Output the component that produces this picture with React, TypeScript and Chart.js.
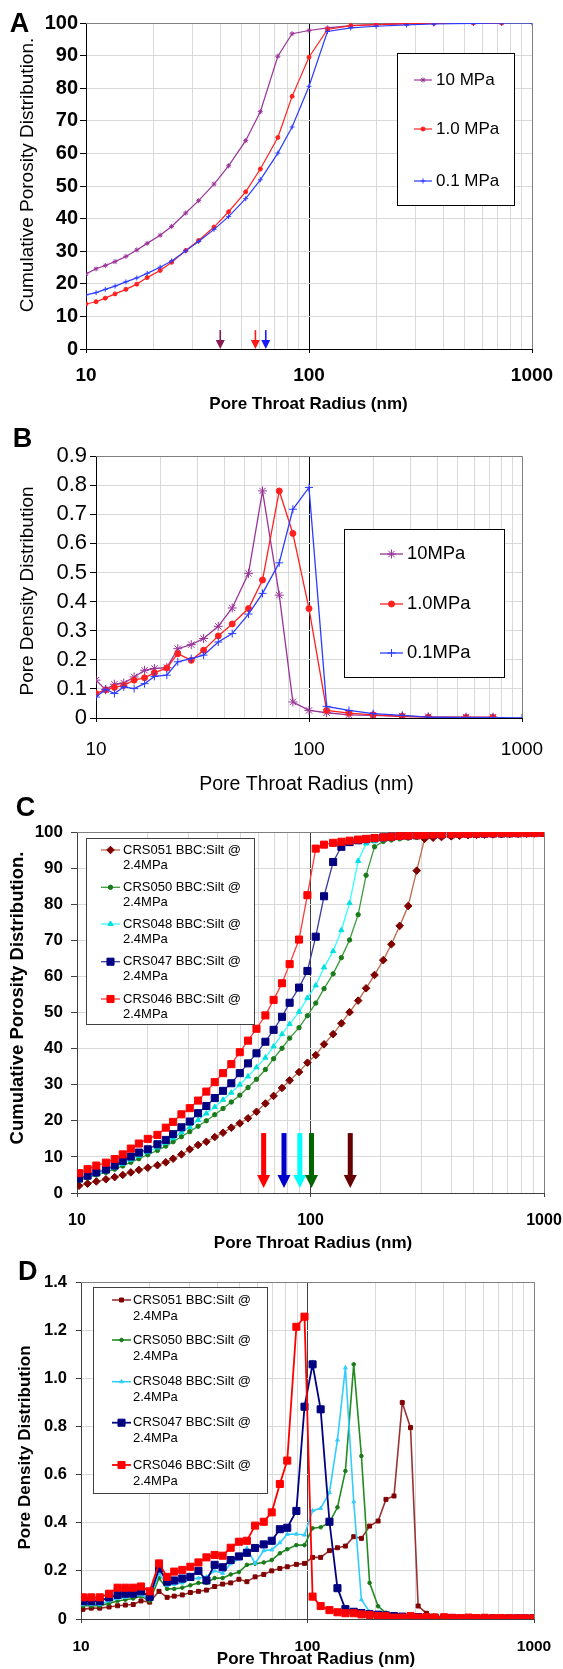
import React, { useEffect, useRef } from 'react';
import { Chart, registerables } from 'chart.js';

Chart.register(...registerables);

const FAMILY = "'Liberation Sans', Arial, Helvetica, sans-serif";
const PAGE_W = 563;

// ---------------- shared log x axis ----------------
const logGridValues = [10, 20, 30, 40, 50, 60, 70, 80, 90, 100, 200, 300, 400, 500, 600, 700, 800, 900, 1000];
const logLabelValues = [10, 100, 1000];

// ---------------- Panels A & B ----------------
const radiiAB = [10, 11.1, 12.2, 13.5, 15.1, 16.9, 18.8, 21.5, 24.2, 28, 32, 37.5, 43.6, 52, 60.5, 72.5, 84, 100, 121, 154, 200, 274, 363, 546, 731, 1000];
const labelsA = ['10 MPa', '1.0 MPa', '0.1 MPa'];
const labelsB = ['10MPa', '1.0MPa', '0.1MPa'];

const cumA_10 = [23.0, 24.6, 25.6, 26.8, 28.4, 30.4, 32.4, 34.9, 37.6, 41.7, 45.5, 50.6, 56.2, 63.9, 72.8, 89.8, 96.7, 97.7, 98.5, 99.2, 99.5, 99.8, 99.9, 100, 100];
const cumA_1 = [13.8, 14.5, 15.6, 16.9, 18.3, 19.9, 21.9, 24.1, 26.6, 30.2, 33.3, 37.4, 42.1, 48.2, 55.2, 64.9, 77.5, 89.5, 98.0, 99.2, 99.5, 99.8, 99.9, 100, 100];
const cumA_01 = [16.6, 17.3, 18.3, 19.3, 20.6, 21.8, 23.2, 25.1, 27.0, 30.1, 33.0, 36.7, 40.6, 46.1, 51.9, 60.1, 68.1, 80.6, 97.4, 98.5, 99.0, 99.4, 99.7, 99.9, 100, 100];

const pdB_10 = [0.13, 0.097, 0.116, 0.12, 0.141, 0.164, 0.17, 0.173, 0.238, 0.252, 0.273, 0.315, 0.378, 0.497, 0.78, 0.422, 0.055, 0.026, 0.018, 0.011, 0.009, 0.006, 0.004, 0.003, 0.003];
const pdB_1 = [0.084, 0.097, 0.105, 0.112, 0.13, 0.138, 0.155, 0.172, 0.221, 0.198, 0.233, 0.282, 0.323, 0.376, 0.474, 0.78, 0.634, 0.376, 0.026, 0.017, 0.011, 0.006, 0.003, 0.002, 0.002];
const pdB_01 = [0.072, 0.099, 0.084, 0.107, 0.101, 0.118, 0.143, 0.147, 0.193, 0.204, 0.216, 0.261, 0.29, 0.357, 0.428, 0.533, 0.717, 0.792, 0.04, 0.026, 0.015, 0.009, 0.003, 0.001, 0.001, 0];

const arrowRadiiA = [40, 57.5, 64];
const arrowColorsA = ['#8B1A50', '#FF1A1A', '#1A1AFF'];

// ---------------- Panels C & D ----------------
const radiiCD = [10.2, 11.1, 12.1, 13.3, 14.5, 15.7, 17.0, 18.4, 20.1, 22.1, 24.0, 25.8, 28.0, 30.4, 33.0, 35.8, 38.9, 42.2, 45.8, 49.8, 54.0, 58.7, 64.1, 69.5, 75.5, 81.4, 89.3, 97.0, 105.3, 114.3, 125, 135.6, 147, 160, 173, 188, 205, 222, 241, 262, 285, 308, 335, 364, 401, 435, 473, 514, 557, 605, 658, 713, 775, 842, 912, 993];
const sampleLabels = [
  ['CRS051 BBC:Silt @', '2.4MPa'],
  ['CRS050 BBC:Silt @', '2.4MPa'],
  ['CRS048 BBC:Silt @', '2.4MPa'],
  ['CRS047 BBC:Silt @', '2.4MPa'],
  ['CRS046 BBC:Silt @', '2.4MPa'],
];

const cumC_051 = [2.0, 2.6, 3.2, 3.8, 4.4, 5.0, 5.7, 6.4, 7.0, 7.7, 8.5, 9.5, 10.7, 12.1, 13.3, 14.2, 15.5, 16.7, 18.1, 19.3, 20.7, 22.5, 24.8, 26.9, 29.1, 31.2, 33.5, 36.1, 38.2, 41.2, 44.0, 47.0, 50.1, 53.3, 56.7, 60.4, 64.5, 68.9, 74.0, 79.5, 89.3, 98.1, 98.4, 98.6, 98.8, 98.95, 99.1, 99.2, 99.3, 99.35, 99.4, 99.45, 99.5, 99.55, 99.6, 99.7];
const cumC_050 = [3.5, 4.2, 5.0, 5.7, 6.6, 7.5, 8.5, 9.5, 10.6, 11.8, 13.0, 14.2, 15.6, 17.0, 18.5, 20.0, 21.7, 23.4, 25.2, 27.1, 29.2, 31.5, 34.2, 37.2, 40.1, 42.9, 45.8, 49.1, 52.6, 56.6, 60.7, 65.2, 70.1, 77.1, 88.0, 95.9, 97.4, 97.8, 98.1, 98.3, 98.5, 98.7, 98.9, 99.0, 99.1, 99.2, 99.3, 99.35, 99.4, 99.45, 99.5, 99.5, 99.55, 99.6, 99.65, 99.7];
const cumC_048 = [3.7, 4.4, 5.2, 6.0, 7.0, 8.1, 9.2, 10.3, 11.3, 12.6, 13.9, 15.2, 16.8, 18.3, 20.2, 22.0, 23.8, 25.8, 27.8, 30.0, 32.3, 34.8, 37.5, 40.6, 44.0, 46.8, 50.2, 54.0, 57.5, 62.5, 67.0, 72.8, 80.3, 92.0, 96.8, 97.4, 97.8, 98.1, 98.3, 98.5, 98.7, 98.9, 99.0, 99.1, 99.2, 99.3, 99.35, 99.4, 99.45, 99.5, 99.5, 99.55, 99.6, 99.6, 99.65, 99.7];
const cumC_047 = [4.0, 4.8, 5.7, 6.5, 7.6, 8.9, 10.1, 11.2, 12.1, 13.5, 14.7, 16.3, 18.2, 19.8, 22.1, 24.1, 26.3, 28.3, 30.4, 33.2, 35.9, 38.7, 41.9, 45.2, 48.8, 52.7, 56.9, 61.5, 71.0, 82.2, 91.7, 95.9, 97.2, 97.7, 98.0, 98.3, 98.5, 98.7, 98.9, 99.0, 99.1, 99.2, 99.3, 99.35, 99.4, 99.45, 99.5, 99.5, 99.55, 99.6, 99.6, 99.65, 99.65, 99.7, 99.7, 99.75];
const cumC_046 = [5.5, 6.6, 7.6, 8.4, 9.4, 10.7, 12.3, 13.7, 15.0, 16.1, 18.1, 19.7, 21.8, 23.5, 25.6, 28.1, 30.7, 33.2, 35.7, 39.0, 42.2, 45.5, 49.2, 53.5, 58.1, 63.4, 70.2, 82.5, 95.4, 96.5, 97.0, 97.3, 97.6, 97.9, 98.1, 98.3, 98.5, 98.7, 98.9, 99.0, 99.1, 99.2, 99.3, 99.35, 99.4, 99.5, 99.5, 99.55, 99.6, 99.6, 99.65, 99.65, 99.7, 99.7, 99.75, 99.8];

const pdD_051 = [0.04, 0.045, 0.045, 0.05, 0.055, 0.058, 0.06, 0.075, 0.07, 0.115, 0.09, 0.095, 0.10, 0.11, 0.115, 0.12, 0.135, 0.145, 0.15, 0.165, 0.155, 0.175, 0.185, 0.2, 0.21, 0.217, 0.227, 0.231, 0.256, 0.256, 0.284, 0.296, 0.303, 0.342, 0.335, 0.386, 0.407, 0.497, 0.511, 0.899, 0.795, 0.054, 0.024, 0.012, 0.01, 0.008, 0.006, 0.005, 0.004, 0.004, 0.003, 0.003, 0.003, 0.003, 0.003, 0.003];
const pdD_050 = [0.055, 0.055, 0.055, 0.065, 0.075, 0.08, 0.085, 0.095, 0.075, 0.17, 0.125, 0.125, 0.13, 0.14, 0.15, 0.15, 0.17, 0.17, 0.185, 0.195, 0.225, 0.23, 0.235, 0.245, 0.273, 0.29, 0.307, 0.307, 0.377, 0.381, 0.4, 0.464, 0.615, 1.058, 0.677, 0.15, 0.053, 0.026, 0.019, 0.012, 0.009, 0.007, 0.006, 0.005, 0.005, 0.004, 0.004, 0.003, 0.003, 0.003, 0.01, 0.003, 0.003, 0.003, 0.003, 0.003];
const pdD_048 = [0.06, 0.06, 0.06, 0.075, 0.085, 0.09, 0.095, 0.10, 0.085, 0.19, 0.14, 0.145, 0.15, 0.165, 0.17, 0.175, 0.2, 0.19, 0.23, 0.25, 0.294, 0.231, 0.284, 0.287, 0.317, 0.352, 0.353, 0.349, 0.45, 0.46, 0.525, 0.744, 1.044, 0.487, 0.08, 0.03, 0.018, 0.012, 0.01, 0.008, 0.007, 0.006, 0.005, 0.005, 0.004, 0.004, 0.003, 0.003, 0.003, 0.003, 0.003, 0.003, 0.003, 0.003, 0.003, 0.003];
const pdD_047 = [0.074, 0.074, 0.074, 0.09, 0.10, 0.105, 0.105, 0.115, 0.092, 0.21, 0.155, 0.16, 0.168, 0.175, 0.20, 0.16, 0.225, 0.215, 0.245, 0.26, 0.275, 0.295, 0.31, 0.325, 0.373, 0.379, 0.449, 0.882, 1.058, 0.871, 0.404, 0.128, 0.041, 0.03, 0.025, 0.02, 0.018, 0.015, 0.012, 0.01, 0.008, 0.008, 0.006, 0.005, 0.005, 0.004, 0.004, 0.004, 0.003, 0.003, 0.003, 0.003, 0.003, 0.003, 0.003, 0.003];
const pdD_046 = [0.09, 0.09, 0.09, 0.105, 0.13, 0.13, 0.13, 0.135, 0.115, 0.231, 0.175, 0.197, 0.204, 0.217, 0.235, 0.256, 0.266, 0.263, 0.296, 0.321, 0.325, 0.388, 0.404, 0.443, 0.561, 0.658, 1.214, 1.256, 0.093, 0.054, 0.037, 0.028, 0.024, 0.024, 0.019, 0.017, 0.012, 0.012, 0.006, 0.006, 0.012, 0.006, 0.008, 0.006, 0.007, 0.005, 0.004, 0.006, 0.004, 0.005, 0.003, 0.004, 0.003, 0.003, 0.003, 0.003];

const arrowRadiiC = [63, 77, 90, 101, 148];
const arrowColorsC = ['#FF0000', '#0000CC', '#00FFFF', '#006400', '#660000'];

// ---------------- helpers ----------------
type Series = {
  lines: string[];
  values: number[];
  xs: number[];
  line: string;
  marker: string;
  style: string;
  radius: number;
  width: number;
};

const pts = (xs: number[], ys: number[]) => ys.map((y, i) => ({ x: xs[i], y }));
const isLabelled = (v: number) => logLabelValues.some((l) => Math.abs(Math.log10(v) - Math.log10(l)) < 1e-6);
const font = (weight: string, size: number) => `${weight} ${size}px ${FAMILY}`;

function drawMarker(ctx: CanvasRenderingContext2D, style: string, x: number, y: number, r: number, color: string) {
  ctx.save();
  ctx.fillStyle = color;
  ctx.strokeStyle = color;
  ctx.lineWidth = 1;
  ctx.beginPath();
  const d = r * Math.SQRT1_2;
  switch (style) {
    case 'rect':
      ctx.rect(x - d, y - d, 2 * d, 2 * d);
      ctx.fill();
      ctx.stroke();
      break;
    case 'rectRot':
      ctx.moveTo(x, y - r);
      ctx.lineTo(x + r, y);
      ctx.lineTo(x, y + r);
      ctx.lineTo(x - r, y);
      ctx.closePath();
      ctx.fill();
      ctx.stroke();
      break;
    case 'triangle': {
      const a = (2 * Math.PI) / 3;
      ctx.moveTo(x, y - r);
      ctx.lineTo(x + Math.sin(a) * r, y - Math.cos(a) * r);
      ctx.lineTo(x + Math.sin(2 * a) * r, y - Math.cos(2 * a) * r);
      ctx.closePath();
      ctx.fill();
      ctx.stroke();
      break;
    }
    case 'cross':
      ctx.moveTo(x, y - r);
      ctx.lineTo(x, y + r);
      ctx.moveTo(x - r, y);
      ctx.lineTo(x + r, y);
      ctx.stroke();
      break;
    case 'star':
      ctx.moveTo(x, y - r);
      ctx.lineTo(x, y + r);
      ctx.moveTo(x - r, y);
      ctx.lineTo(x + r, y);
      ctx.moveTo(x - d, y - d);
      ctx.lineTo(x + d, y + d);
      ctx.moveTo(x - d, y + d);
      ctx.lineTo(x + d, y - d);
      ctx.stroke();
      break;
    default:
      ctx.arc(x, y, r, 0, Math.PI * 2);
      ctx.fill();
      ctx.stroke();
  }
  ctx.restore();
}

type Spec = {
  top: number;
  height: number;
  area: { left: number; top: number; right: number; bottom: number };
  yMax: number;
  yStep: number;
  yFont: string;
  yTickLen: number;
  yPad: number;
  xFont: string;
  xTickLen: number;
  xPad: number;
  axisColor: string;
  frameColor: string;
  line100: string;
  grid: string;
  series: Series[];
  texts: { text: string; x: number; y: number; font: string; rot?: number }[];
  legend: { box: number[]; lineX: number[]; textX: number; itemY: number[]; gap: number; font: string; border: string };
  arrows?: { at: number[]; colors: string[]; from: number; to: number; shaft: number; headW: number; headH: number };
};

function buildConfig(spec: Spec): any {
  const n = spec.series.length;
  const datasets = spec.series.map((s, i) => ({
    label: s.lines.join(' '),
    data: pts(s.xs, s.values),
    borderColor: s.line,
    backgroundColor: s.marker,
    pointBackgroundColor: s.marker,
    pointBorderColor: s.marker,
    pointStyle: s.style,
    pointRadius: s.radius,
    pointHoverRadius: s.radius,
    pointBorderWidth: 1,
    borderWidth: s.width,
    tension: 0,
    fill: false,
    order: n - 1 - i,
  }));

  const framePlugin = {
    id: 'frame',
    beforeDatasetsDraw(chart: any) {
      const { ctx, chartArea: a } = chart;
      ctx.save();
      ctx.strokeStyle = spec.frameColor;
      ctx.lineWidth = 1;
      ctx.beginPath();
      ctx.moveTo(Math.round(a.left), Math.round(a.top) + 0.5);
      ctx.lineTo(Math.round(a.right) + 0.5, Math.round(a.top) + 0.5);
      ctx.lineTo(Math.round(a.right) + 0.5, Math.round(a.bottom));
      ctx.stroke();
      ctx.restore();
    },
  };

  const arrowPlugin = {
    id: 'arrows',
    afterDatasetsDraw(chart: any) {
      const ar = spec.arrows;
      if (!ar) return;
      const { ctx } = chart;
      const xs = chart.scales.x;
      const ys = chart.scales.y;
      const top = ys.getPixelForValue(ar.from);
      const tip = ys.getPixelForValue(ar.to);
      ar.at.forEach((v, i) => {
        const px = xs.getPixelForValue(v);
        ctx.save();
        ctx.fillStyle = ar.colors[i];
        ctx.fillRect(px - ar.shaft / 2, top, ar.shaft, tip - ar.headH - top + 1);
        ctx.beginPath();
        ctx.moveTo(px - ar.headW / 2, tip - ar.headH);
        ctx.lineTo(px + ar.headW / 2, tip - ar.headH);
        ctx.lineTo(px, tip);
        ctx.closePath();
        ctx.fill();
        ctx.restore();
      });
    },
  };

  const legendPlugin = {
    id: 'boxLegend',
    afterDraw(chart: any) {
      const { ctx } = chart;
      const lg = spec.legend;
      const [bx, by, bw, bh] = lg.box;
      ctx.save();
      ctx.fillStyle = '#FFFFFF';
      ctx.fillRect(bx, by, bw, bh);
      ctx.strokeStyle = lg.border;
      ctx.lineWidth = 1;
      ctx.strokeRect(bx + 0.5, by + 0.5, bw, bh);
      spec.series.forEach((s, i) => {
        const y = lg.itemY[i];
        ctx.strokeStyle = s.line;
        ctx.lineWidth = s.width;
        ctx.beginPath();
        ctx.moveTo(lg.lineX[0], y);
        ctx.lineTo(lg.lineX[1], y);
        ctx.stroke();
        drawMarker(ctx, s.style, (lg.lineX[0] + lg.lineX[1]) / 2, y, s.radius, s.marker);
        ctx.fillStyle = '#000';
        ctx.font = lg.font;
        ctx.textAlign = 'left';
        ctx.textBaseline = 'middle';
        s.lines.forEach((t, k) => ctx.fillText(t, lg.textX, y + k * lg.gap));
      });
      ctx.restore();
    },
  };

  const textPlugin = {
    id: 'texts',
    afterDraw(chart: any) {
      const { ctx } = chart;
      spec.texts.forEach((t) => {
        ctx.save();
        ctx.translate(t.x, t.y);
        if (t.rot) ctx.rotate(t.rot);
        ctx.font = t.font;
        ctx.fillStyle = '#000';
        ctx.textAlign = 'center';
        ctx.textBaseline = 'middle';
        ctx.fillText(t.text, 0, 0);
        ctx.restore();
      });
    },
  };

  const zeroPad = (s: any) => {
    s.paddingLeft = 0;
    s.paddingRight = 0;
    s.paddingTop = 0;
    s.paddingBottom = 0;
  };

  return {
    type: 'line',
    data: { datasets },
    options: {
      responsive: false,
      animation: false,
      events: [],
      layout: {
        padding: { left: 0, top: spec.area.top, right: PAGE_W - spec.area.right, bottom: 0 },
      },
      plugins: {
        legend: { display: false },
        tooltip: { enabled: false },
        title: { display: false },
      },
      scales: {
        x: {
          type: 'logarithmic',
          min: 10,
          max: 1000,
          afterBuildTicks: (s: any) => {
            s.ticks = logGridValues.map((v) => ({ value: v }));
          },
          afterFit: (s: any) => {
            s.height = spec.height - spec.area.bottom;
            zeroPad(s);
          },
          ticks: {
            autoSkip: false,
            maxRotation: 0,
            minRotation: 0,
            padding: spec.xPad,
            color: '#000',
            font: { family: FAMILY, size: parseFloat(spec.xFont.split(' ')[1]), weight: spec.xFont.split(' ')[0] },
            callback: (v: number) => (isLabelled(v) ? String(Math.round(v)) : ''),
          },
          grid: {
            color: (c: any) => (c.tick && Math.abs(c.tick.value - 100) < 1e-6 ? spec.line100 : spec.grid),
            tickColor: (c: any) => (c.tick && isLabelled(c.tick.value) ? spec.axisColor : 'rgba(0,0,0,0)'),
            tickLength: spec.xTickLen,
            lineWidth: 1,
          },
          border: { color: spec.axisColor, width: 1 },
        },
        y: {
          type: 'linear',
          min: 0,
          max: spec.yMax,
          afterFit: (s: any) => {
            s.width = spec.area.left;
            zeroPad(s);
          },
          ticks: {
            stepSize: spec.yStep,
            autoSkip: false,
            padding: spec.yPad,
            color: '#000',
            font: { family: FAMILY, size: parseFloat(spec.yFont.split(' ')[1]), weight: spec.yFont.split(' ')[0] },
          },
          grid: {
            color: spec.grid,
            tickColor: spec.axisColor,
            tickLength: spec.yTickLen,
            lineWidth: 1,
          },
          border: { color: spec.axisColor, width: 1 },
        },
      },
    },
    plugins: [framePlugin, arrowPlugin, legendPlugin, textPlugin],
  };
}

// ---------------- panel specs ----------------
const PURPLE = '#993399';
const RED = '#FF2020';
const BLUE = '#2B3BFF';
const ROT = -Math.PI / 2;

const specA: Spec = {
  top: 0,
  height: 415,
  area: { left: 86, top: 23, right: 532, bottom: 349 },
  yMax: 100,
  yStep: 10,
  yFont: 'bold 20',
  yTickLen: 6,
  yPad: 2,
  xFont: 'bold 19',
  xTickLen: 4,
  xPad: 11,
  axisColor: '#000000',
  frameColor: '#808080',
  line100: '#000000',
  grid: '#D9D9D9',
  series: [
    { lines: [labelsA[0]], values: cumA_10, xs: radiiAB, line: PURPLE, marker: PURPLE, style: 'star', radius: 2.5, width: 1.2 },
    { lines: [labelsA[1]], values: cumA_1, xs: radiiAB, line: RED, marker: RED, style: 'circle', radius: 2, width: 1.2 },
    { lines: [labelsA[2]], values: cumA_01, xs: radiiAB, line: BLUE, marker: BLUE, style: 'cross', radius: 2.5, width: 1.2 },
  ],
  texts: [
    { text: 'Pore Throat Radius (nm)', x: 308.5, y: 404, font: font('bold', 17) },
    { text: 'Cumulative Porosity Distribution.', x: 27.5, y: 175, font: font('normal', 19), rot: ROT },
  ],
  legend: { box: [397, 53, 117, 152], lineX: [414, 432], textX: 436, itemY: [80, 129, 181], gap: 0, font: font('normal', 17), border: '#000000' },
  arrows: { at: arrowRadiiA, colors: arrowColorsA, from: 5.8, to: 0, shaft: 1.6, headW: 9, headH: 9 },
};

const specB: Spec = {
  top: 415,
  height: 385,
  area: { left: 96, top: 41, right: 522, bottom: 303 },
  yMax: 0.9,
  yStep: 0.1,
  yFont: 'normal 22',
  yTickLen: 6,
  yPad: 3,
  xFont: 'normal 19',
  xTickLen: 4,
  xPad: 16,
  axisColor: '#000000',
  frameColor: '#808080',
  line100: '#000000',
  grid: '#D9D9D9',
  series: [
    { lines: [labelsB[0]], values: pdB_10, xs: radiiAB, line: PURPLE, marker: PURPLE, style: 'star', radius: 4.5, width: 1.3 },
    { lines: [labelsB[1]], values: pdB_1, xs: radiiAB, line: RED, marker: RED, style: 'circle', radius: 3, width: 1.3 },
    { lines: [labelsB[2]], values: pdB_01, xs: radiiAB, line: BLUE, marker: BLUE, style: 'cross', radius: 4, width: 1.3 },
  ],
  texts: [
    { text: 'Pore Throat Radius (nm)', x: 306.5, y: 370, font: font('normal', 19.5) },
    { text: 'Pore Density Distribution', x: 27.5, y: 176, font: font('normal', 19), rot: ROT },
  ],
  legend: { box: [344, 114, 160, 148], lineX: [380, 403], textX: 407, itemY: [139, 189, 238], gap: 0, font: font('normal', 18.4), border: '#000000' },
};

const specC: Spec = {
  top: 795,
  height: 460,
  area: { left: 77, top: 37, right: 544, bottom: 398 },
  yMax: 100,
  yStep: 10,
  yFont: 'bold 17',
  yTickLen: 6,
  yPad: 8,
  xFont: 'bold 16',
  xTickLen: 4,
  xPad: 14,
  axisColor: '#404040',
  frameColor: '#808080',
  line100: '#404040',
  grid: '#D9D9D9',
  series: [
    { lines: sampleLabels[0], values: cumC_051, xs: radiiCD, line: '#B86B4B', marker: '#800000', style: 'rectRot', radius: 3.8, width: 1.3 },
    { lines: sampleLabels[1], values: cumC_050, xs: radiiCD, line: '#3C9A3C', marker: '#1A7A1A', style: 'circle', radius: 2.2, width: 1.3 },
    { lines: sampleLabels[2], values: cumC_048, xs: radiiCD, line: '#33FFFF', marker: '#00E0E0', style: 'triangle', radius: 3, width: 1.3 },
    { lines: sampleLabels[3], values: cumC_047, xs: radiiCD, line: '#3C3CA0', marker: '#000080', style: 'rect', radius: 5, width: 1.3 },
    { lines: sampleLabels[4], values: cumC_046, xs: radiiCD, line: '#FF3A3A', marker: '#FF0000', style: 'rect', radius: 5, width: 1.3 },
  ],
  texts: [
    { text: 'Pore Throat Radius (nm)', x: 313, y: 448, font: font('bold', 17) },
    { text: 'Cumulative Porosity Distribution.', x: 17.5, y: 203, font: font('bold', 18.5), rot: ROT },
  ],
  legend: { box: [86, 43, 168, 186], lineX: [101, 120], textX: 123, itemY: [55, 92.3, 129, 166.7, 204], gap: 15, font: font('normal', 13), border: '#404040' },
  arrows: { at: arrowRadiiC, colors: arrowColorsC, from: 16.6, to: 1.4, shaft: 5, headW: 13, headH: 13 },
};

const specD: Spec = {
  top: 1255,
  height: 414,
  area: { left: 81, top: 27, right: 534, bottom: 364 },
  yMax: 1.4,
  yStep: 0.2,
  yFont: 'bold 16.5',
  yTickLen: 5,
  yPad: 9,
  xFont: 'bold 15.5',
  xTickLen: 4,
  xPad: 14,
  axisColor: '#404040',
  frameColor: '#808080',
  line100: '#404040',
  grid: '#D9D9D9',
  series: [
    { lines: sampleLabels[0], values: pdD_051, xs: radiiCD, line: '#993333', marker: '#800000', style: 'rect', radius: 2.8, width: 1.6 },
    { lines: sampleLabels[1], values: pdD_050, xs: radiiCD, line: '#228B22', marker: '#1A7A1A', style: 'circle', radius: 1.8, width: 1.6 },
    { lines: sampleLabels[2], values: pdD_048, xs: radiiCD, line: '#33CCFF', marker: '#33CCFF', style: 'triangle', radius: 2.2, width: 1.6 },
    { lines: sampleLabels[3], values: pdD_047, xs: radiiCD, line: '#000080', marker: '#000080', style: 'rect', radius: 5, width: 1.8 },
    { lines: sampleLabels[4], values: pdD_046, xs: radiiCD, line: '#FF0000', marker: '#FF0000', style: 'rect', radius: 5, width: 1.8 },
  ],
  texts: [
    { text: 'Pore Throat Radius (nm)', x: 316, y: 404, font: font('bold', 17) },
    { text: 'Pore Density Distribution', x: 25, y: 192.5, font: font('bold', 17), rot: ROT },
  ],
  legend: { box: [93, 32, 174, 206], lineX: [112, 131], textX: 133, itemY: [45, 85, 126.7, 167.7, 210], gap: 16, font: font('normal', 13), border: '#404040' },
};

const panelLetters = [
  { t: 'A', x: 19.5, y: 22.5 },
  { t: 'B', x: 22.5, y: 438 },
  { t: 'C', x: 25.5, y: 807 },
  { t: 'D', x: 27.8, y: 1271 },
];

function Panel({ spec }: { spec: Spec }) {
  const ref = useRef<HTMLCanvasElement | null>(null);
  useEffect(() => {
    if (!ref.current) return;
    const chart = new Chart(ref.current, buildConfig(spec));
    return () => chart.destroy();
  }, [spec]);
  return (
    <canvas
      ref={ref}
      width={PAGE_W}
      height={spec.height}
      style={{ position: 'absolute', left: 0, top: spec.top, width: PAGE_W, height: spec.height, display: 'block' }}
    />
  );
}

export default function App() {
  return (
    <div style={{ position: 'absolute', left: 0, top: 0, width: PAGE_W, height: 1669, background: '#FFFFFF', overflow: 'hidden' }}>
      <Panel spec={specA} />
      <Panel spec={specB} />
      <Panel spec={specC} />
      <Panel spec={specD} />
      {panelLetters.map((l) => (
        <div
          key={l.t}
          style={{
            position: 'absolute',
            left: l.x,
            top: l.y,
            transform: 'translate(-50%, -50%)',
            font: `bold 27px ${FAMILY}`,
            lineHeight: '1',
            color: '#000',
          }}
        >
          {l.t}
        </div>
      ))}
    </div>
  );
}
